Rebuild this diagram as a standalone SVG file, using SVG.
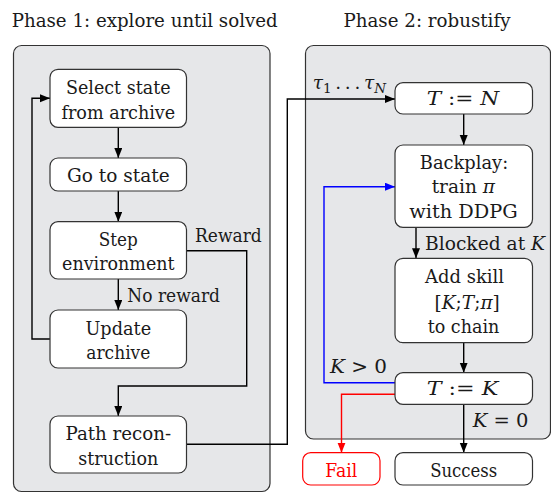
<svg xmlns="http://www.w3.org/2000/svg" width="551" height="493" viewBox="0 0 551 493" font-family="'DejaVu Serif', serif">
<defs>
<style>
.panel{fill:#e6e7e9;stroke:#333;stroke-width:1.2}
.box{fill:#fff;stroke:#333;stroke-width:1.2}
.t{font-family:'DejaVu Serif',serif;font-size:18.5px;fill:#1a1a1a;text-anchor:middle}
.s{text-anchor:start}
.i{font-style:italic}
.c{fill:none;stroke:#000;stroke-width:1.4}
</style>
<marker id="ak" markerUnits="userSpaceOnUse" markerWidth="11" markerHeight="9" refX="10" refY="4" orient="auto"><path d="M0,0 L10,4 L0,8 z" fill="#000"/></marker>
<marker id="ab" markerUnits="userSpaceOnUse" markerWidth="11" markerHeight="9" refX="10" refY="4" orient="auto"><path d="M0,0 L10,4 L0,8 z" fill="#0000ff"/></marker>
<marker id="ar" markerUnits="userSpaceOnUse" markerWidth="11" markerHeight="9" refX="10" refY="4" orient="auto"><path d="M0,0 L10,4 L0,8 z" fill="#ff0000"/></marker>
</defs>
<rect width="551" height="493" fill="#fff"/>
<g id="phase1">
<rect class="panel" x="13.5" y="45.5" width="256.5" height="446" rx="8"/>
<text class="t" x="144.7" y="27.3" textLength="266" lengthAdjust="spacingAndGlyphs">Phase 1: explore until solved</text>
</g>
<g id="phase2">
<rect class="panel" x="305.5" y="45.5" width="245" height="393.5" rx="8"/>
<text class="t" x="427" y="27.3" textLength="167" lengthAdjust="spacingAndGlyphs">Phase 2: robustify</text>
</g>
<g id="connectors">
<path class="c" d="M118.3,127.3 V158" marker-end="url(#ak)"/>
<path class="c" d="M118.3,191 V221.7" marker-end="url(#ak)"/>
<path class="c" d="M118.3,279 V310" marker-end="url(#ak)"/>
<path class="c" d="M50,339 H32 V98.3 H50" marker-end="url(#ak)"/>
<path class="c" d="M186.7,250.7 H246.7 V386 H118.3 V416" marker-end="url(#ak)"/>
<path class="c" d="M186.7,444.3 H287.3 V99 H395" marker-end="url(#ak)"/>
<path class="c" d="M463.7,114 V145" marker-end="url(#ak)"/>
<path class="c" d="M416,227.3 V258.3" marker-end="url(#ak)"/>
<path class="c" d="M463.7,342.7 V372.7" marker-end="url(#ak)"/>
<path class="c" d="M463.7,404.3 V452.7" marker-end="url(#ak)"/>
<path class="c" d="M395,382.7 H324 V186.7 H395" style="stroke:#0000ff" marker-end="url(#ab)"/>
<path class="c" d="M395,394.3 H341.5 V452.7" style="stroke:#ff0000" marker-end="url(#ar)"/>
<text class="t s" x="195" y="241.7" textLength="66.7" lengthAdjust="spacingAndGlyphs">Reward</text>
<text class="t s" x="127.3" y="302" textLength="92.7" lengthAdjust="spacingAndGlyphs">No reward</text>
<text class="t s" x="312.7" y="89"><tspan class="i">τ</tspan><tspan dy="4" font-size="13.5">1</tspan><tspan dy="-4">&#8201;.&#8201;.&#8201;.&#8201;</tspan><tspan class="i">τ</tspan><tspan dy="4" font-size="13.5" class="i">N</tspan></text>
<text class="t s" x="425" y="250" textLength="120" lengthAdjust="spacingAndGlyphs">Blocked at <tspan class="i">K</tspan></text>
<text class="t s" x="330" y="373.3" textLength="57" lengthAdjust="spacingAndGlyphs"><tspan class="i">K</tspan> &gt; 0</text>
<text class="t s" x="472.7" y="426.7" textLength="55.7" lengthAdjust="spacingAndGlyphs"><tspan class="i">K</tspan> = 0</text>
</g>
<g id="select">
<rect class="box" x="50" y="69.3" width="136.5" height="58" rx="8"/>
<text class="t" x="118.3" y="94" textLength="104.7" lengthAdjust="spacingAndGlyphs">Select state</text>
<text class="t" x="118.3" y="118.5" textLength="113.7" lengthAdjust="spacingAndGlyphs">from archive</text>
</g>
<g id="goto">
<rect class="box" x="50" y="158" width="136.5" height="33" rx="8"/>
<text class="t" x="118.3" y="181.7" textLength="102.6" lengthAdjust="spacingAndGlyphs">Go to state</text>
</g>
<g id="step">
<rect class="box" x="50" y="221.7" width="136.5" height="57.3" rx="8"/>
<text class="t" x="118.3" y="245.5" textLength="39" lengthAdjust="spacingAndGlyphs">Step</text>
<text class="t" x="118.3" y="270" textLength="112.5" lengthAdjust="spacingAndGlyphs">environment</text>
</g>
<g id="update">
<rect class="box" x="50" y="310" width="136.5" height="58" rx="8"/>
<text class="t" x="118.3" y="334.5" textLength="65.7" lengthAdjust="spacingAndGlyphs">Update</text>
<text class="t" x="118.3" y="358.5" textLength="64" lengthAdjust="spacingAndGlyphs">archive</text>
</g>
<g id="path">
<rect class="box" x="50" y="416" width="136.5" height="57" rx="8"/>
<text class="t" x="118.3" y="440" textLength="105.7" lengthAdjust="spacingAndGlyphs">Path recon-</text>
<text class="t" x="118.3" y="464.5" textLength="80" lengthAdjust="spacingAndGlyphs">struction</text>
</g>
<g id="tn">
<rect class="box" x="395" y="82.7" width="137.5" height="31.3" rx="8"/>
<text class="t" x="463" y="105" textLength="72.6" lengthAdjust="spacingAndGlyphs"><tspan class="i">T</tspan> := <tspan class="i">N</tspan></text>
</g>
<g id="backplay">
<rect class="box" x="395" y="145" width="137.5" height="82.3" rx="8"/>
<text class="t" x="464" y="169.3" textLength="88.3" lengthAdjust="spacingAndGlyphs">Backplay:</text>
<text class="t" x="463.3" y="193.3">train <tspan class="i">π</tspan></text>
<text class="t" x="463.5" y="218.3" textLength="108.3" lengthAdjust="spacingAndGlyphs">with DDPG</text>
</g>
<g id="addskill">
<rect class="box" x="395" y="258.3" width="137.5" height="84.4" rx="8"/>
<text class="t" x="464.5" y="283.3" textLength="79" lengthAdjust="spacingAndGlyphs">Add skill</text>
<text class="t" x="467.2" y="308.5">[<tspan class="i">K</tspan>;<tspan class="i">T</tspan>;<tspan class="i">π</tspan>]</text>
<text class="t" x="463.5" y="333.3" textLength="71.6" lengthAdjust="spacingAndGlyphs">to chain</text>
</g>
<g id="tk">
<rect class="box" x="395" y="372.7" width="137.5" height="31.6" rx="8"/>
<text class="t" x="462.5" y="395" textLength="71.6" lengthAdjust="spacingAndGlyphs"><tspan class="i">T</tspan> := <tspan class="i">K</tspan></text>
</g>
<g id="fail">
<rect class="box" x="302.7" y="452.7" width="77.3" height="32.3" rx="8" style="stroke:#ff0000"/>
<text class="t" x="341.2" y="476.7" textLength="32" lengthAdjust="spacingAndGlyphs" style="fill:#ff0000">Fail</text>
</g>
<g id="success">
<rect class="box" x="395" y="452.7" width="137.5" height="32.3" rx="8"/>
<text class="t" x="463.7" y="476.7" textLength="67" lengthAdjust="spacingAndGlyphs">Success</text>
</g>
</svg>
